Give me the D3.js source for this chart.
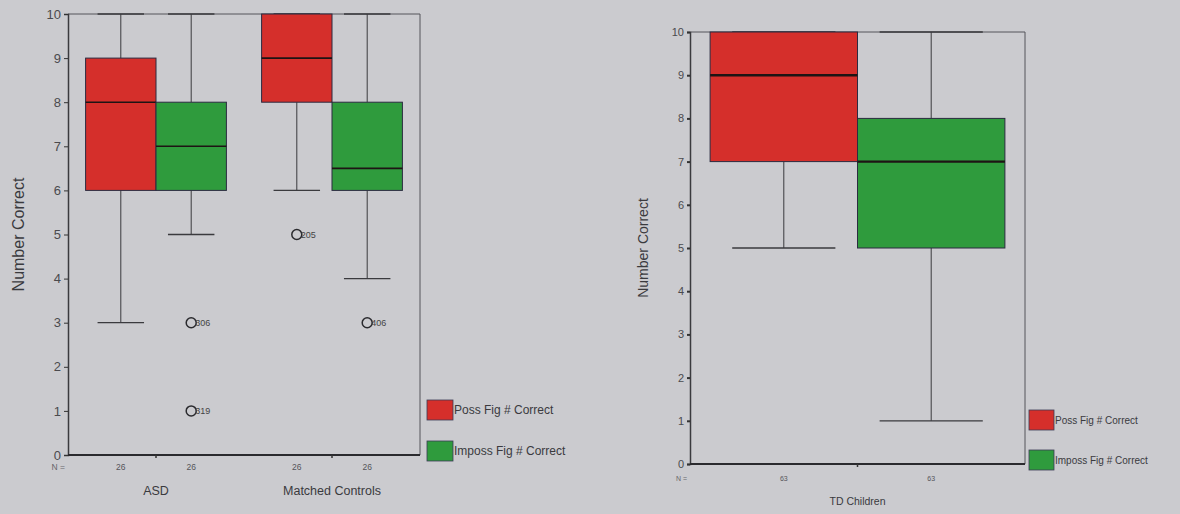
<!DOCTYPE html>
<html>
<head>
<meta charset="utf-8">
<script src="https://cdn.jsdelivr.net/npm/d3@7"></script>
<style>
  html, body { margin: 0; padding: 0; background: #cbcbcf; }
  svg { display: block; font-family: "Liberation Sans", Arial, sans-serif; }
</style>
</head>
<body>
<svg id="fig" width="1180" height="514"></svg>
<script>
// Series shown in both panels
const series = ["Poss Fig # Correct", "Imposs Fig # Correct"];
const seriesColors = ["#d52f2b", "#2f9b3d"];
const yTicks = [0, 1, 2, 3, 4, 5, 6, 7, 8, 9, 10];

// Left panel: ASD vs matched controls (boxes in group/series order)
const leftGroups = ["ASD", "Matched Controls"];
const leftN = [26, 26, 26, 26];
const leftLow = [3, 5, 6, 4];
const leftQ1 = [6, 6, 8, 6];
const leftMedian = [8, 7, 9, 6.5];
const leftQ3 = [9, 8, 10, 8];
const leftHigh = [10, 10, 10, 10];
const leftOutliers = [
  { box: 1, value: 3, id: "306" },
  { box: 1, value: 1, id: "319" },
  { box: 2, value: 5, id: "205" },
  { box: 3, value: 3, id: "406" }
];

// Right panel: typically developing children
const rightGroups = ["TD Children"];
const rightN = [63, 63];
const rightLow = [5, 1];
const rightQ1 = [7, 5];
const rightMedian = [9, 7];
const rightQ3 = [10, 8];
const rightHigh = [10, 10];
const rightOutliers = [];

const svg = d3.select("#fig");

function drawPanel(cfg) {
  const g = svg.append("g");
  const x = d3.scaleBand().domain(cfg.groups).range([cfg.left, cfg.right]);
  const y = d3.scaleLinear().domain([0, 10]).range([cfg.bottom, cfg.top]);
  const bw = x.bandwidth() * cfg.boxFrac;

  const boxes = [];
  cfg.groups.forEach((grp, gi) => {
    series.forEach((s, si) => {
      const i = gi * series.length + si;
      const x0 = x(grp) + x.bandwidth() / 2 - bw + si * bw;
      boxes.push({
        i, si, x0, cx: x0 + bw / 2,
        low: cfg.low[i], q1: cfg.q1[i], med: cfg.med[i], q3: cfg.q3[i], high: cfg.high[i],
        n: cfg.n[i]
      });
    });
  });

  // frame (top and right sides)
  g.append("path")
    .attr("d", `M${cfg.left},${cfg.top}H${cfg.right}V${cfg.bottom}`)
    .attr("fill", "none").attr("stroke", "#55555a").attr("stroke-width", 1);

  // whiskers
  const cap = bw * cfg.capFrac;
  boxes.forEach(b => {
    g.append("line").attr("x1", b.cx).attr("x2", b.cx)
      .attr("y1", y(b.q3)).attr("y2", y(b.high))
      .attr("stroke", "#3a3a3e").attr("stroke-width", 1);
    g.append("line").attr("x1", b.cx).attr("x2", b.cx)
      .attr("y1", y(b.q1)).attr("y2", y(b.low))
      .attr("stroke", "#3a3a3e").attr("stroke-width", 1);
    g.append("line").attr("x1", b.cx - cap / 2).attr("x2", b.cx + cap / 2)
      .attr("y1", y(b.low)).attr("y2", y(b.low))
      .attr("stroke", "#3a3a3e").attr("stroke-width", 1.3);
    g.append("line").attr("x1", b.cx - cap / 2).attr("x2", b.cx + cap / 2)
      .attr("y1", y(b.high)).attr("y2", y(b.high))
      .attr("stroke", "#3a3a3e").attr("stroke-width", 1.3);
  });

  // boxes
  boxes.forEach(b => {
    g.append("rect")
      .attr("x", b.x0).attr("width", bw)
      .attr("y", y(b.q3)).attr("height", y(b.q1) - y(b.q3))
      .attr("fill", seriesColors[b.si])
      .attr("stroke", "#2b2b40").attr("stroke-width", 1);
    g.append("line")
      .attr("x1", b.x0).attr("x2", b.x0 + bw)
      .attr("y1", y(b.med)).attr("y2", y(b.med))
      .attr("stroke", "#1e1414").attr("stroke-width", cfg.medianWidth);
  });

  // outliers
  cfg.outliers.forEach(o => {
    const b = boxes[o.box];
    g.append("circle").attr("cx", b.cx).attr("cy", y(o.value)).attr("r", 5)
      .attr("fill", "none").attr("stroke", "#2a2a2e").attr("stroke-width", 1.5);
    g.append("text").attr("x", b.cx + 4).attr("y", y(o.value) + 3.5)
      .attr("font-size", 9).attr("fill", "#444").text(o.id);
  });

  // y axis
  const yAxis = g.append("g").attr("transform", `translate(${cfg.left},0)`)
    .call(d3.axisLeft(y).tickValues(yTicks).tickSize(cfg.tickLen).tickPadding(3));
  yAxis.select(".domain").attr("stroke", "#3a3a3e").attr("stroke-width", 1.5);
  yAxis.selectAll(".tick line").attr("stroke", "#333").attr("stroke-width", cfg.tickWidth);
  yAxis.selectAll(".tick text").attr("font-size", cfg.tickFont).attr("fill", "#4a4a4e")
    .attr("font-family", "Liberation Sans, Arial, sans-serif");

  // x axis with ticks at group centres
  const xAxis = g.append("g").attr("transform", `translate(0,${cfg.bottom})`)
    .call(d3.axisBottom(x).tickSize(3).tickFormat(""));
  xAxis.select(".domain").attr("stroke", "#2a2a2e").attr("stroke-width", 1.8)
    .attr("d", `M${cfg.left},0H${cfg.right}`);
  xAxis.selectAll(".tick line").attr("stroke", "#333").attr("stroke-width", 1.5);

  // N row
  g.append("text").attr("x", cfg.left - 3).attr("y", cfg.bottom + cfg.nOffset)
    .attr("text-anchor", "end").attr("font-size", cfg.nFont).attr("fill", "#66666a").text("N =");
  boxes.forEach(b => {
    g.append("text").attr("x", b.cx).attr("y", cfg.bottom + cfg.nOffset)
      .attr("text-anchor", "middle").attr("font-size", cfg.nFont).attr("fill", "#55555a").text(b.n);
  });

  // group labels
  cfg.groups.forEach(grp => {
    g.append("text").attr("x", x(grp) + x.bandwidth() / 2).attr("y", cfg.bottom + cfg.catOffset)
      .attr("text-anchor", "middle").attr("font-size", cfg.catFont).attr("fill", "#3a3a3e").text(grp);
  });

  // y title
  g.append("text")
    .attr("transform", `translate(${cfg.titleX},${(cfg.top + cfg.bottom) / 2}) rotate(-90)`)
    .attr("text-anchor", "middle").attr("font-size", cfg.titleFont).attr("fill", "#3a3a3e")
    .text("Number Correct");

  // legend
  series.forEach((s, si) => {
    const ly = cfg.legendY + si * cfg.legendGap;
    g.append("rect").attr("x", cfg.legendX).attr("y", ly)
      .attr("width", cfg.swatchW).attr("height", cfg.swatchH)
      .attr("fill", seriesColors[si]).attr("stroke", "#3a3a55").attr("stroke-width", 0.8);
    g.append("text").attr("x", cfg.legendX + cfg.swatchW + 1).attr("y", ly + cfg.swatchH * 0.72)
      .attr("font-size", cfg.legendFont).attr("fill", "#3a3a3e").text(s);
  });
}

drawPanel({
  groups: leftGroups, n: leftN, low: leftLow, q1: leftQ1, med: leftMedian, q3: leftQ3, high: leftHigh,
  outliers: leftOutliers,
  left: 68, right: 420, top: 14, bottom: 455,
  boxFrac: 0.4, capFrac: 0.66, medianWidth: 1.6,
  tickLen: 4, tickWidth: 1, tickFont: 13,
  nFont: 8.5, nOffset: 15, catFont: 12.5, catOffset: 40,
  titleX: 24, titleFont: 16,
  legendX: 427, legendY: 400, legendGap: 41, swatchW: 26, swatchH: 20, legendFont: 12
});

drawPanel({
  groups: rightGroups, n: rightN, low: rightLow, q1: rightQ1, med: rightMedian, q3: rightQ3, high: rightHigh,
  outliers: rightOutliers,
  left: 690, right: 1025, top: 32, bottom: 464,
  boxFrac: 0.44, capFrac: 0.7, medianWidth: 2.4,
  tickLen: 3, tickWidth: 2, tickFont: 11,
  nFont: 7, nOffset: 17, catFont: 10.5, catOffset: 41,
  titleX: 648, titleFont: 14,
  legendX: 1029, legendY: 410, legendGap: 40, swatchW: 25, swatchH: 20, legendFont: 10
});
</script>
</body>
</html>
